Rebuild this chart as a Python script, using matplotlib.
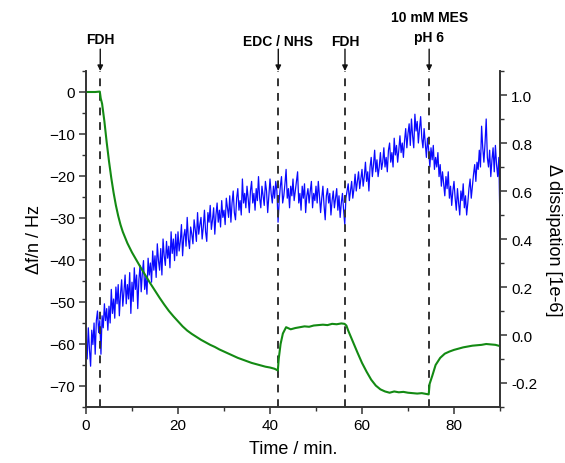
import numpy as np
import matplotlib
matplotlib.use("Agg")
import matplotlib.pyplot as plt
from matplotlib.ticker import MultipleLocator

plt.rcParams['font.family'] = ['Liberation Sans', 'DejaVu Sans']

# ---------------- data ----------------
# Frequency shift (green, left axis)
freq_time = [0, 1, 2, 3.0, 3.2, 3.5, 4.0, 4.5, 5.0, 5.5, 6.0, 6.5, 7.0, 7.5, 8, 9, 10, 11, 12, 13,
             14, 15, 16, 17, 18, 19, 20, 21, 22, 23, 24, 25, 26, 27, 28, 29, 30, 31, 32, 33,
             34, 35, 36, 37, 38, 39, 40, 41, 41.7, 41.9, 42.3, 42.8, 43.5, 44.5, 45.5, 46.5, 47.5, 48.5,
             49.5, 50.5, 51.5, 52.5, 53.5, 54.5, 55.5, 56.2, 56.6, 57, 58, 59, 60, 61, 62, 63,
             64, 65, 66, 67, 68, 69, 70, 71, 72, 73, 74.5, 74.7, 75.3, 76, 77, 78, 79, 80,
             81, 82, 83, 84, 85, 86, 87, 88, 89, 90]
freq_vals = [0, 0, 0, 0.1, -1.5, -2.8, -7.0, -12.0, -16.5, -20.5, -24.0, -27.0, -29.5, -31.6, -33.3, -36.0, -38.2, -40.1, -42.0, -43.8,
             -45.6, -47.3, -49.0, -50.6, -52.1, -53.4, -54.6, -55.8, -56.8, -57.6, -58.3, -59.0, -59.6, -60.2, -60.7, -61.3, -61.8, -62.3, -62.8, -63.3,
             -63.7, -64.1, -64.5, -64.8, -65.1, -65.4, -65.6, -65.9, -66.3, -63.5, -60.0, -57.5, -56.0, -56.5, -56.2, -56.0, -55.8, -55.9,
             -55.6, -55.5, -55.4, -55.5, -55.2, -55.3, -55.1, -55.2, -55.6, -56.8, -59.4, -62.0, -64.5, -66.6, -68.5, -69.9,
             -70.8, -71.3, -71.6, -71.3, -71.5, -71.4, -71.6, -71.7, -71.8, -71.7, -72.0, -69.5, -67.5, -65.0, -63.3, -62.3, -61.8, -61.4,
             -61.1, -60.8, -60.6, -60.4, -60.3, -60.2, -60.0, -60.1, -60.2, -60.5]

# Dissipation (blue, right axis), one reading every 0.25 min from 0 to 90 min
diss_start, diss_end = 0.0, 90.0
diss_vals = [
    # 0 - 10 min
    -0.02, -0.10, 0.03, -0.06, -0.13, 0.02, -0.04, 0.05, -0.08, 0.06,
    0.10, 0.01, 0.06, -0.08, 0.08, 0.03, 0.13, 0.06, 0.11, 0.02,
    0.12, 0.05, 0.19, 0.09, 0.15, 0.07, 0.20, 0.13, 0.21, 0.08,
    0.17, 0.23, 0.12, 0.18, 0.25, 0.13, 0.21, 0.15, 0.26, 0.09,
    # 10 - 20 min
    0.22, 0.14, 0.28, 0.19, 0.25, 0.11, 0.23, 0.29, 0.18, 0.26,
    0.31, 0.19, 0.24, 0.17, 0.32, 0.25, 0.30, 0.22, 0.35, 0.27,
    0.33, 0.24, 0.38, 0.31, 0.27, 0.36, 0.25, 0.40, 0.33, 0.29,
    0.39, 0.32, 0.37, 0.28, 0.43, 0.34, 0.40, 0.31, 0.42, 0.33,
    # 20 - 30 min
    0.43, 0.35, 0.39, 0.46, 0.33, 0.41, 0.44, 0.37, 0.49, 0.40,
    0.36, 0.45, 0.42, 0.38, 0.48, 0.44, 0.39, 0.51, 0.42, 0.46,
    0.49, 0.40, 0.45, 0.52, 0.43, 0.39, 0.51, 0.47, 0.54, 0.44,
    0.48, 0.53, 0.42, 0.50, 0.55, 0.47, 0.52, 0.45, 0.56, 0.49,
    # 30 - 40 min
    0.52, 0.46, 0.57, 0.53, 0.49, 0.58, 0.47, 0.55, 0.60, 0.51,
    0.48, 0.57, 0.61, 0.52, 0.56, 0.50, 0.65, 0.55, 0.59, 0.53,
    0.62, 0.57, 0.51, 0.60, 0.64, 0.55, 0.59, 0.52, 0.61, 0.56,
    0.66, 0.57, 0.53, 0.62, 0.58, 0.54, 0.64, 0.60, 0.51, 0.58,
    # 40 - 50 min
    0.65, 0.59, 0.55, 0.62, 0.57, 0.64, 0.60, 0.47, 0.56, 0.62,
    0.66, 0.55, 0.58, 0.63, 0.69, 0.57, 0.61, 0.53, 0.62, 0.58,
    0.65, 0.56, 0.60, 0.64, 0.68, 0.55, 0.59, 0.52, 0.62, 0.57,
    0.63, 0.51, 0.58, 0.61, 0.55, 0.60, 0.64, 0.53, 0.59, 0.56,
    # 50 - 60 min
    0.62, 0.55, 0.64, 0.58, 0.51, 0.57, 0.62, 0.54, 0.48, 0.58,
    0.61, 0.55, 0.59, 0.50, 0.56, 0.60, 0.53, 0.57, 0.61, 0.52,
    0.58, 0.49, 0.55, 0.59, 0.52, 0.46, 0.57, 0.60, 0.63, 0.56,
    0.60, 0.64, 0.57, 0.61, 0.67, 0.60, 0.64, 0.68, 0.61, 0.65,
    # 60 - 70 min
    0.69, 0.62, 0.66, 0.72, 0.64, 0.68, 0.60, 0.70, 0.74, 0.66,
    0.71, 0.77, 0.68, 0.73, 0.66, 0.70, 0.76, 0.69, 0.72, 0.78,
    0.70, 0.74, 0.68, 0.77, 0.80, 0.72, 0.76, 0.70, 0.82, 0.75,
    0.79, 0.72, 0.77, 0.83, 0.76, 0.80, 0.74, 0.81, 0.86, 0.78,
    # 70 - 80 min
    0.84, 0.88, 0.79, 0.90, 0.83, 0.78, 0.92, 0.85, 0.89, 0.80,
    0.86, 0.91, 0.82, 0.78, 0.86, 0.80, 0.74, 0.82, 0.77, 0.70,
    0.78, 0.73, 0.79, 0.69, 0.74, 0.70, 0.76, 0.66, 0.71, 0.62,
    0.68, 0.63, 0.58, 0.66, 0.61, 0.68, 0.57, 0.62, 0.54, 0.60,
    # 80 - 90 min
    0.64, 0.57, 0.52, 0.61, 0.55, 0.50, 0.60, 0.56, 0.63, 0.53,
    0.58, 0.50, 0.55, 0.61, 0.65, 0.57, 0.62, 0.67, 0.71, 0.64,
    0.72, 0.69, 0.77, 0.70, 0.87, 0.78, 0.72, 0.80, 0.90, 0.74,
    0.70, 0.77, 0.66, 0.73, 0.78, 0.68, 0.79, 0.71, 0.66, 0.74,
    0.45,
]
diss_time = np.linspace(diss_start, diss_end, len(diss_vals))

# Injection events
event_times = [3.1, 41.8, 56.3, 74.6]
event_labels = ["FDH", "EDC / NHS", "FDH", "10 mM MES\npH 6"]

x_ticks = [0, 20, 40, 60, 80]
left_ticks = [0, -10, -20, -30, -40, -50, -60, -70]
right_ticks = [1.0, 0.8, 0.6, 0.4, 0.2, 0.0, -0.2]

# ---------------- figure ----------------
W, H = 565, 464
fig = plt.figure(figsize=(W / 100, H / 100), dpi=100)
ax = fig.add_axes([86 / W, 1 - 408 / H, (500 - 86) / W, (408 - 72) / H])
ax2 = ax.twinx()

spine_col = '#333333'
ax2.plot(diss_time, diss_vals, color='#0a0aff', lw=0.9)
ax.plot(freq_time, freq_vals, color='#138a13', lw=1.5)
ax.set_zorder(ax2.get_zorder() + 1)
ax.patch.set_visible(False)

ax.set_xlim(0, 90)
ax.set_ylim(-75, 5)
ax2.set_ylim(-0.3, 1.1)

ax.set_xticks(x_ticks)
ax.set_yticks(left_ticks)
ax2.set_yticks(right_ticks)
ax.xaxis.set_minor_locator(MultipleLocator(10))
ax.yaxis.set_minor_locator(MultipleLocator(5))
ax2.yaxis.set_minor_locator(MultipleLocator(0.1))
ax2.set_yticklabels([f"{v:.1f}" for v in right_ticks])

for a in (ax, ax2):
    a.spines['top'].set_visible(False)
    for s in a.spines.values():
        s.set_color(spine_col)
        s.set_linewidth(1.2)
    a.tick_params(which='major', direction='out', length=5, width=1.1, color=spine_col,
                  labelsize=11, pad=3)
    a.tick_params(which='minor', direction='out', length=3, width=1.0, color=spine_col)

ax.set_xlabel("Time / min.", fontsize=13, labelpad=6)
ax.set_ylabel("Δf/n / Hz", fontsize=13, labelpad=4)
ax2.set_ylabel("Δ dissipation [1e-6]", fontsize=13, rotation=270, labelpad=18)

# event markers
label_y = [1.095, 1.089, 1.089, 1.08]
for t, lab, ly in zip(event_times, event_labels, label_y):
    ax.axvline(t, color=spine_col, lw=1.4, linestyle=(0, (4, 3.5)), zorder=1)
    ax.annotate("", xy=(t, 1.0), xytext=(t, 1.065),
                xycoords=ax.get_xaxis_transform(), textcoords=ax.get_xaxis_transform(),
                arrowprops=dict(arrowstyle='-|>', color='#111111', lw=1.0, mutation_scale=8,
                                shrinkA=0, shrinkB=0))
    ax.text(t, ly, lab, transform=ax.get_xaxis_transform(), ha='center', va='bottom' if '\n' in lab else 'center',
            fontsize=10, fontweight='bold', linespacing=1.6)

fig.savefig("out.png", dpi=100)
